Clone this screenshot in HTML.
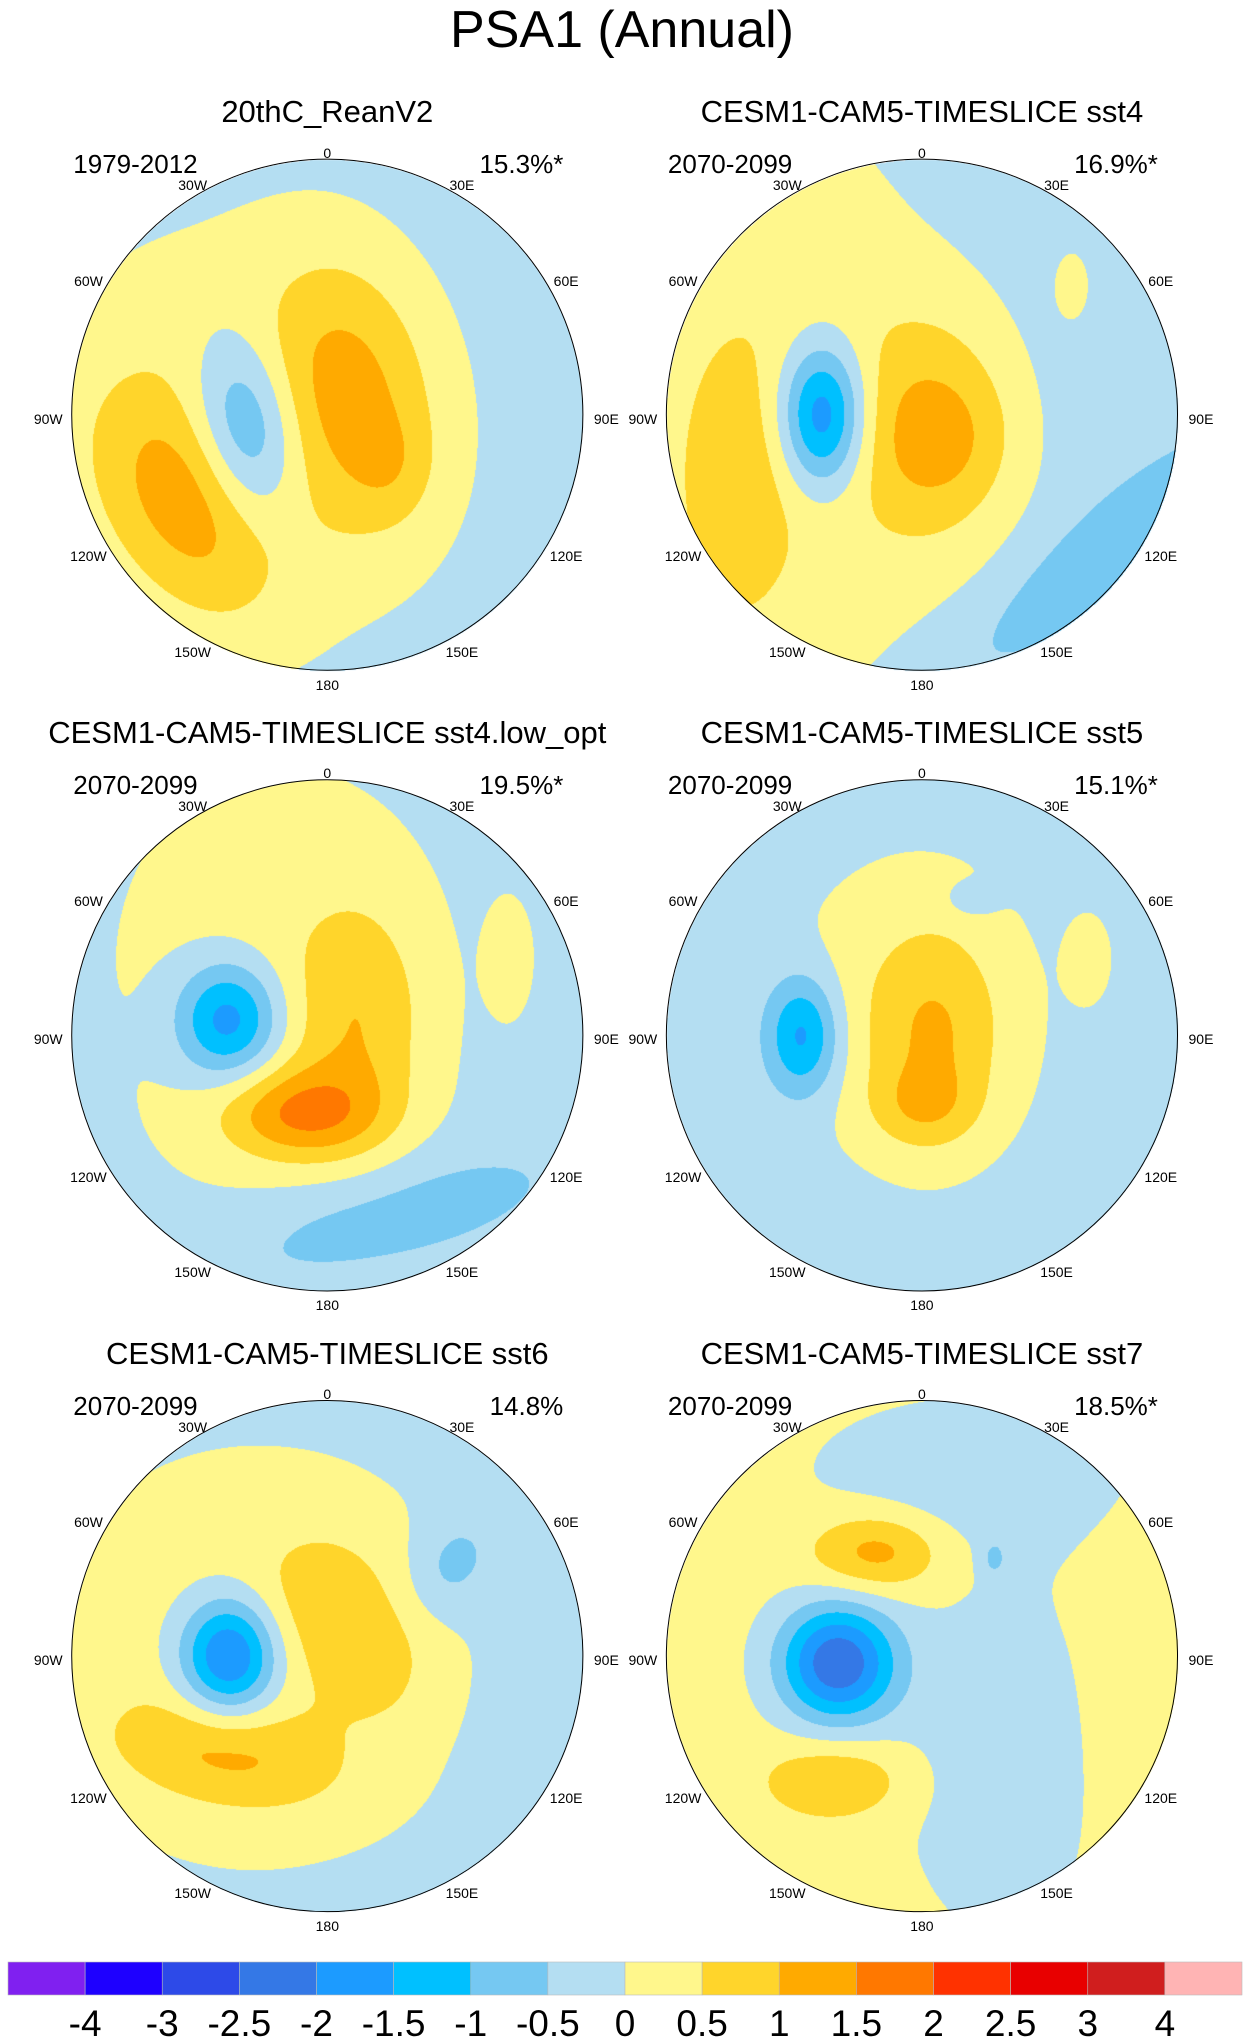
<!DOCTYPE html>
<html><head><meta charset="utf-8"><style>
body{margin:0;background:#fff;}
#wrap{position:relative;width:1244px;height:2042px;overflow:hidden;background:#fff;font-family:"Liberation Sans",sans-serif;}
.t{position:absolute;white-space:nowrap;color:#000;}
canvas{position:absolute;}
</style></head><body>
<div id="wrap">
<div class="t" style="left:0;width:1244px;text-align:center;top:0px;font-size:52px;">PSA1 (Annual)</div>
<svg id="ov" width="1244" height="2042" style="position:absolute;left:0;top:0"></svg>
</div>
<script>
// colorbar data
const levels = [-4,-3,-2.5,-2,-1.5,-1,-0.5,0,0.5,1,1.5,2,2.5,3,4];
const colors = ["#8020f0","#1e00ff","#2d4ae8","#3478e6","#1c9bff","#00c0ff","#75c8f2","#b4def2","#fff78c","#ffd52b","#ffaa00","#ff7800","#ff3200","#e80000","#d01e1e","#ffb4b4"];
// panel metadata
const titles = ["20thC_ReanV2","CESM1-CAM5-TIMESLICE sst4","CESM1-CAM5-TIMESLICE sst4.low_opt","CESM1-CAM5-TIMESLICE sst5","CESM1-CAM5-TIMESLICE sst6","CESM1-CAM5-TIMESLICE sst7"];
const periods = ["1979-2012","2070-2099","2070-2099","2070-2099","2070-2099","2070-2099"];
const percents = ["15.3%*","16.9%*","19.5%*","15.1%*","14.8%","18.5%*"];
const lonLabels = ["0","30E","60E","90E","120E","150E","180","150W","120W","90W","60W","30W"];
const lonAngles = [0,30,60,90,120,150,180,210,240,270,300,330];
// field anomalies per panel: base value, then blobs [dx,dy,amp,sx,sy,rotDeg] (pattern units, radius=196)
const bases = [-0.3,-0.3,-0.3,-0.3,-0.28,0.2];
const blobs = [
 [[-70,15,0.8,155,165,0],[20,-20,1.0,62,105,-10],[50,40,0.35,30,40,0],[-110,70,0.95,55,95,-30],[-62,10,-1.5,38,70,-10]],
 [[-110,0,0.7,130,260,0],[10,10,1.0,65,95,0],[-145,60,0.6,45,110,0],[-77,0,-2.2,32,55,0],[130,110,-0.5,150,35,-40],[115,-100,0.5,15,30,0],[20,20,0.35,50,50,0]],
 [[-40,-40,0.6,150,200,0],[25,-10,0.8,50,90,0],[-20,60,1.4,60,35,0],[-76,-12,-1.9,40,45,0],[40,140,-0.6,130,40,-15],[140,-60,0.55,18,45,0]],
 [[-10,-20,0.6,115,135,0],[10,0,0.8,50,80,0],[0,55,0.6,40,30,0],[-92,0,-1.6,28,45,0],[38,-104,-0.5,18,12,0],[128,-60,0.5,18,35,0]],
 [[-60,0,0.65,175,175,0],[0,-40,0.6,55,60,0],[45,10,0.4,40,50,0],[-80,75,0.9,90,40,10],[-75,0,-2.4,38,45,0],[95,-70,-0.6,30,40,30]],
 [[40,-140,-0.5,130,60,0],[60,80,-0.5,80,140,0],[-35,-80,1.1,50,30,0],[-65,5,-2.6,45,45,0],[-65,95,0.8,55,30,0],[55,-75,-0.6,10,15,0],[170,40,0.3,40,120,0]]
];
const S = 1.304, R0 = 196, R = R0*S;
const centers = [[251,318],[707,318],[251,794],[707,794],[251,1270],[707,1270]];
const NS="http://www.w3.org/2000/svg";
const wrap=document.getElementById('wrap'), ov=document.getElementById('ov');
function hex(c){return [parseInt(c.substr(1,2),16),parseInt(c.substr(3,2),16),parseInt(c.substr(5,2),16)];}
const rgb=colors.map(hex);
function idxFor(v){let i=0;while(i<levels.length&&v>=levels[i])i++;return i;}
function txt(x,y,s,fs,anchor,name){
  const t=document.createElement('div');t.className='t';
  
  
  t.textContent=s;t.style.fontSize=fs+'px';t.style.top=(y-fs*0.58)+'px';
  if(anchor==='middle'){t.style.left=(x-400)+'px';t.style.width='800px';t.style.textAlign='center';}
  else if(anchor==='end'){t.style.left=(x-800)+'px';t.style.width='800px';t.style.textAlign='right';}
  else t.style.left=x+'px';
  wrap.appendChild(t);
}
centers.forEach((c,p)=>{
  const cx=c[0]*S, cy=c[1]*S;
  const size=Math.ceil(2*R)+2;
  const cv=document.createElement('canvas');cv.width=size;cv.height=size;
  cv.style.left=(cx-size/2)+'px';cv.style.top=(cy-size/2)+'px';
  
  
  wrap.insertBefore(cv,ov);
  const ctx=cv.getContext('2d');const img=ctx.createImageData(size,size);
  const bl=blobs[p].map(b=>{const a=b[5]*Math.PI/180;return [b[0],b[1],b[2],b[3],b[4],Math.cos(a),Math.sin(a)];});
  for(let j=0;j<size;j++)for(let i=0;i<size;i++){
    const px=(i-size/2)/S, py=(j-size/2)/S;
    if(px*px+py*py>R0*R0)continue;
    let v=bases[p];
    for(const b of bl){const dx=px-b[0],dy=py-b[1];const u=dx*b[5]+dy*b[6],w=-dx*b[6]+dy*b[5];v+=b[2]*Math.exp(-(u*u/(b[3]*b[3])+w*w/(b[4]*b[4])));}
    const col=rgb[idxFor(v)];const k=(j*size+i)*4;
    img.data[k]=col[0];img.data[k+1]=col[1];img.data[k+2]=col[2];img.data[k+3]=255;
  }
  ctx.putImageData(img,0,0);
  const circ=document.createElementNS(NS,'circle');
  circ.setAttribute('cx',cx);circ.setAttribute('cy',cy);circ.setAttribute('r',R);
  circ.setAttribute('fill','none');circ.setAttribute('stroke','#000');circ.setAttribute('stroke-width','1');
  
  
  ov.appendChild(circ);
  txt(cx,(c[1]-232)*S,titles[p],31,'middle','panel-title-'+(p+1));
  txt(cx-254,(c[1]-192)*S,periods[p],26,'start','period-label-'+(p+1));
  txt(cx+236,(c[1]-192)*S,percents[p],26,'end','variance-label-'+(p+1));
  lonLabels.forEach((l,k)=>{
    const a=lonAngles[k]*Math.PI/180;const rr=(204+Math.abs(Math.sin(a))*Math.abs(Math.sin(a))*10)*S;
    txt(cx+rr*Math.sin(a),cy-rr*Math.cos(a)+4,l,14,'middle','lon-label-'+l);
  });
});
// colorbar
const bx0=8,bx1=1242,by=1962,bh=33,bw=(bx1-bx0)/colors.length;
colors.forEach((c,i)=>{
  const r=document.createElementNS(NS,'rect');
  r.setAttribute('x',bx0+i*bw);r.setAttribute('y',by);r.setAttribute('width',bw);r.setAttribute('height',bh);
  r.setAttribute('fill',c);r.setAttribute('stroke','#bbb');r.setAttribute('stroke-width','0.6');
  
  
  ov.appendChild(r);
});
levels.forEach((l,i)=>{txt(bx0+(i+1)*bw,2024,String(l),37,'middle','colorbar-label');});
</script>
</body></html>
